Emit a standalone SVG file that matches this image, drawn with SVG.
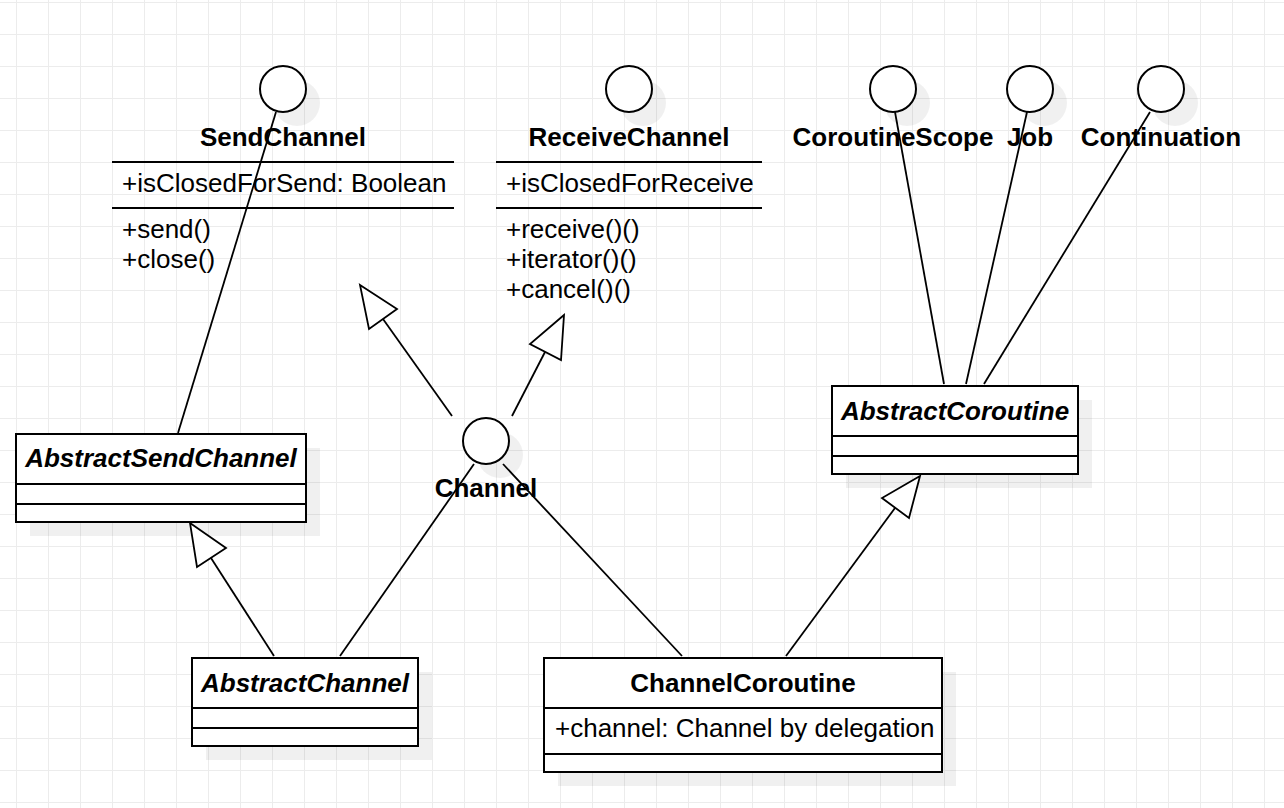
<svg xmlns="http://www.w3.org/2000/svg" width="1284" height="808" viewBox="0 0 1284 808">
<defs>
<pattern id="grid" patternUnits="userSpaceOnUse" x="16" y="2" width="32" height="32">
<path d="M0.5 0V32M0 0.5H32" stroke="#ececec" stroke-width="1" fill="none"/>
</pattern>
<style>
.t{font-family:"Liberation Sans",Arial,sans-serif;font-size:26px;fill:#000}
.b{font-weight:bold}
.i{font-style:italic;font-weight:bold}
.m{text-anchor:middle}
.box{fill:#fff;stroke:#000;stroke-width:2}
.ln{stroke:#000;stroke-width:2;fill:none}
.sh{fill:#000;fill-opacity:0.06}
.c{fill:#fff;stroke:#000;stroke-width:2}
.con{stroke:#000;stroke-width:1.8;fill:none}
.tri{fill:#fff;stroke:#000;stroke-width:1.8;stroke-linejoin:miter}
</style>
</defs>
<rect width="1284" height="808" fill="#fff"/>
<rect width="1284" height="808" fill="url(#grid)"/>

<g id="SendChannel">
<circle class="sh" cx="297" cy="103" r="23"/>
<circle class="c" cx="283" cy="89" r="23"/>
<text class="t b m" x="283" y="146">SendChannel</text>
<line class="ln" x1="112" y1="162" x2="454" y2="162"/>
<text class="t" x="122" y="192">+isClosedForSend: Boolean</text>
<line class="ln" x1="112" y1="208" x2="454" y2="208"/>
<text class="t" x="122" y="238">+send()</text>
<text class="t" x="122" y="268">+close()</text>
</g>

<g id="ReceiveChannel">
<circle class="sh" cx="643" cy="103" r="23"/>
<circle class="c" cx="629" cy="89" r="23"/>
<text class="t b m" x="629" y="146">ReceiveChannel</text>
<line class="ln" x1="496" y1="162" x2="762" y2="162"/>
<text class="t" x="506" y="192">+isClosedForReceive</text>
<line class="ln" x1="496" y1="208" x2="762" y2="208"/>
<text class="t" x="506" y="238">+receive()()</text>
<text class="t" x="506" y="268">+iterator()()</text>
<text class="t" x="506" y="298">+cancel()()</text>
</g>

<g id="CoroutineScope">
<circle class="sh" cx="907" cy="103" r="23"/>
<circle class="c" cx="893" cy="89" r="23"/>
<text class="t b m" x="893" y="146">CoroutineScope</text>
</g>

<g id="Job">
<circle class="sh" cx="1044" cy="103" r="23"/>
<circle class="c" cx="1030" cy="89" r="23"/>
<text class="t b m" x="1030" y="146">Job</text>
</g>

<g id="Continuation">
<circle class="sh" cx="1175" cy="103" r="23"/>
<circle class="c" cx="1161" cy="89" r="23"/>
<text class="t b m" x="1161" y="146">Continuation</text>
</g>

<g id="Channel">
<circle class="sh" cx="500" cy="455" r="23"/>
<circle class="c" cx="486" cy="441" r="23"/>
</g>

<g id="AbstractSendChannel">
<rect class="sh" x="30" y="448" width="290" height="88"/>
<rect class="box" x="16" y="434" width="290" height="88"/>
<line class="ln" x1="16" y1="484" x2="306" y2="484"/>
<line class="ln" x1="16" y1="504" x2="306" y2="504"/>
<text class="t i m" x="161" y="467">AbstractSendChannel</text>
</g>

<g id="AbstractCoroutine">
<rect class="sh" x="846" y="400" width="246" height="88"/>
<rect class="box" x="832" y="386" width="246" height="88"/>
<line class="ln" x1="832" y1="436" x2="1078" y2="436"/>
<line class="ln" x1="832" y1="456" x2="1078" y2="456"/>
<text class="t i m" x="955" y="420">AbstractCoroutine</text>
</g>

<g id="AbstractChannel">
<rect class="sh" x="206" y="672" width="226" height="88"/>
<rect class="box" x="192" y="658" width="226" height="88"/>
<line class="ln" x1="192" y1="708" x2="418" y2="708"/>
<line class="ln" x1="192" y1="728" x2="418" y2="728"/>
<text class="t i m" x="305" y="692">AbstractChannel</text>
</g>

<g id="ChannelCoroutine">
<rect class="sh" x="558" y="672" width="398" height="114"/>
<rect class="box" x="544" y="658" width="398" height="114"/>
<line class="ln" x1="544" y1="708" x2="942" y2="708"/>
<line class="ln" x1="544" y1="754" x2="942" y2="754"/>
<text class="t b m" x="743" y="692">ChannelCoroutine</text>
<text class="t" x="555" y="737">+channel: Channel by delegation</text>
</g>

<g id="connectors">
<line class="con" x1="276" y1="112" x2="178" y2="433"/>
<line class="con" x1="452" y1="416" x2="383" y2="319"/>
<polygon class="tri" points="360,285 397,309 369,329"/>
<line class="con" x1="512" y1="416" x2="545" y2="352"/>
<polygon class="tri" points="564,315 530,344 561,360"/>
<line class="con" x1="474" y1="464" x2="340" y2="656"/>
<line class="con" x1="274" y1="656" x2="211" y2="558"/>
<polygon class="tri" points="190,523 226,548 197,567"/>
<line class="con" x1="503" y1="464" x2="682" y2="656"/>
<line class="con" x1="786" y1="656" x2="895" y2="508"/>
<polygon class="tri" points="920,476 882,498 909,518"/>
<line class="con" x1="895" y1="112" x2="944" y2="384"/>
<line class="con" x1="1027" y1="112" x2="966" y2="384"/>
<line class="con" x1="1150" y1="112" x2="984" y2="384"/>
</g>

<g id="ChannelLabel">
<text class="t b m" x="486" y="497">Channel</text>
</g>
</svg>
